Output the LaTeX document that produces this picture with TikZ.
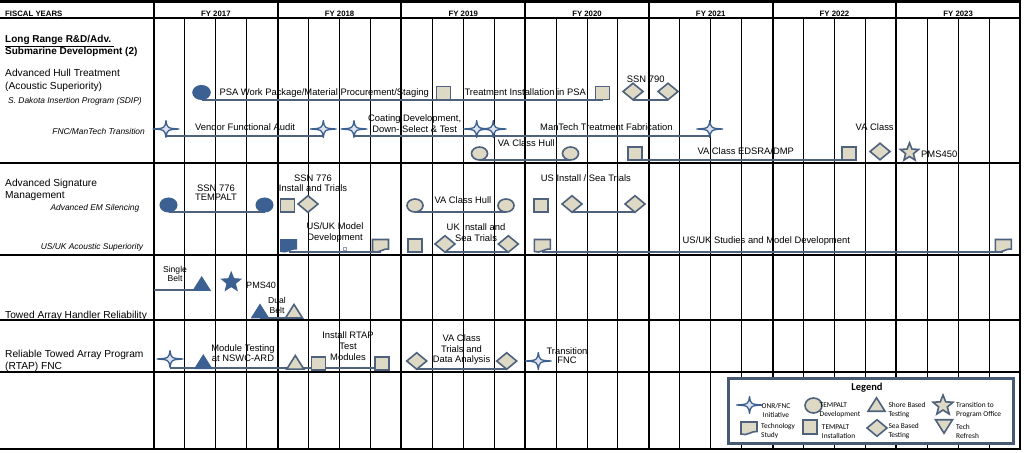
\documentclass[tikz,border=0pt]{standalone}
\usepackage{fontspec}
\setmainfont{Liberation Sans}
\newfontfamily\legfont{Carlito}
\usetikzlibrary{shapes.geometric,calc}
\pgfdeclarelayer{gridlayer}
\pgfdeclarelayer{connlayer}
\pgfsetlayers{gridlayer,connlayer,main}
\definecolor{dkb}{RGB}{60,96,145}
\definecolor{slt}{RGB}{78,98,126}
\definecolor{tanf}{RGB}{221,217,196}
\definecolor{legb}{RGB}{70,90,118}
\definecolor{sfill}{RGB}{222,228,238}
\newcommand\trishape[3]{\node[tribox] (#2) at (#3) {};\path[#1] (#2.south west) -- (#2.south east) -- (#2.north) -- cycle;}
\newcommand\dtrishape[3]{\node[tribox] (#2) at (#3) {};\path[#1] (#2.north west) -- (#2.north east) -- (#2.south) -- cycle;}
\newcommand\diashape[3]{\node[diabox] (#2) at (#3) {};\path[#1] (#2.west) -- (#2.north) -- (#2.east) -- (#2.south) -- cycle;}
\newcommand\docshape[3]{\node[docbox] (#2) at (#3) {};\path[#1] ($(#2)+(-8,-6)$) -- ($(#2)+(8,-6)$) -- ($(#2)+(8,3.5)$) .. controls ($(#2)+(3,2.5)$) and ($(#2)+(-2,8.5)$) .. ($(#2)+(-8,6)$) -- cycle;}
\newcommand\starfour[2]{\node[sfbox] (#1) at (#2) {};\path[sfour] (#1.west) .. controls ($(#1)+(-1.2,-0.8)$) .. (#1.north) .. controls ($(#1)+(1.2,-0.8)$) .. (#1.east) .. controls ($(#1)+(1.2,0.8)$) .. (#1.south) .. controls ($(#1)+(-1.2,0.8)$) .. (#1.west) -- cycle;}
\begin{document}
\begin{tikzpicture}[x=1pt,y=-1pt,
  conn/.style={draw=slt, line width=2pt},
  dkf/.style={fill=dkb, draw=dkb, line width=1pt},
  ltf/.style={fill=tanf, draw=slt, line width=1.6pt},
  sfour/.style={fill=sfill, draw=dkb, line width=1.3pt, line join=round},
  sqr/.style={rectangle, minimum width=14pt, minimum height=13pt, inner sep=0, outer sep=0, ltf},
  dkell/.style={ellipse, minimum width=17pt, minimum height=14pt, inner sep=0, outer sep=0, dkf},
  ltell/.style={ellipse, minimum width=16pt, minimum height=13pt, inner sep=0, outer sep=0, ltf},
  starv/.style={star, star points=5, star point ratio=2.3, inner sep=0, outer sep=0, minimum size=19pt},
  tribox/.style={rectangle, minimum width=17pt, minimum height=13.5pt, inner sep=0, outer sep=0},
  diabox/.style={rectangle, minimum width=20pt, minimum height=16.5pt, inner sep=0, outer sep=0},
  docbox/.style={rectangle, minimum width=16pt, minimum height=12pt, inner sep=0, outer sep=0},
  sfbox/.style={rectangle, minimum width=26pt, minimum height=17pt, inner sep=0, outer sep=0},
  lab/.style={font=\fontsize{9.4}{10.5}\selectfont, inner sep=0, align=center},
  labw/.style={font=\fontsize{9.4}{11}\selectfont, inner sep=0, anchor=base west},
  side/.style={font=\fontsize{10.2}{12}\selectfont, inner sep=0, anchor=base west},
  sideb/.style={font=\fontsize{10}{12}\selectfont\bfseries, inner sep=0, anchor=base west},
  sidei/.style={font=\fontsize{8.4}{10}\selectfont\itshape, inner sep=0},
  hdr/.style={font=\fontsize{7.8}{9}\selectfont\bfseries, inner sep=0, anchor=base},
  leg/.style={font=\legfont\fontsize{7.4}{9}\selectfont, inner sep=0, align=left, anchor=west}
]
\useasboundingbox (0,0) rectangle (1024,452);
% ---------- grid ----------
\begin{pgfonlayer}{gridlayer}
\fill[white] (0,0) rectangle (1024,452);
\foreach \i in {1,...,27} \draw[line width=1pt] ({154+30.929*\i},18) -- ({154+30.929*\i},448.5);
\foreach \i in {0,...,7} \draw[line width=2pt] ({154+123.714*\i},2) -- ({154+123.714*\i},449);
\draw[line width=3pt] (0,2) -- (1021,2);
\draw[line width=1.8pt] (0,17.8) -- (1021,17.8);
\draw[line width=1.6pt] (0,163) -- (1021,163);
\draw[line width=1.6pt] (0,255) -- (1021,255);
\draw[line width=1.6pt] (0,320) -- (1021,320);
\draw[line width=1.6pt] (0,372) -- (1021,372);
\draw[line width=2.6pt] (0,448.8) -- (1021,448.8);
\end{pgfonlayer}
% ---------- header ----------
\node[hdr, anchor=base west] (hfy) at (5,16.2) {FISCAL YEARS};
\foreach \y [count=\k from 0] in {2017,...,2023}
  \node[hdr] (hy\k) at ({215.86+123.714*\k},16.2) {FY \y};
% ---------- side labels ----------
\node[sideb] (tlr) at (5,42.8) {\underline{Long Range R\&D/Adv.\ }};
\node[sideb] (tsd) at (5,55) {Submarine Development (2)};
\node[side] (tah) at (5,76.7) {Advanced Hull Treatment};
\node[side] (tas) at (5,89.3) {(Acoustic Superiority)};
\node[sidei, anchor=base west] (tsdip) at (8,103) {S. Dakota Insertion Program (SDIP)};
\node[sidei, anchor=base east] (tfnc) at (145,134.7) {FNC/ManTech Transition};
\node[side] (tasm) at (5,186.7) {Advanced Signature};
\node[side] (tmg) at (5,198.5) {Management};
\node[sidei, anchor=base east] (tem) at (139.5,210) {Advanced EM Silencing};
\node[sidei, anchor=base east] (tusuk) at (143.3,249.3) {US/UK Acoustic Superiority};
\node[side] (ttah) at (5,318) {Towed Array Handler Reliability};
\node[side] (trt) at (5,357.5) {Reliable Towed Array Program};
\node[side] (trf) at (5,369.5) {(RTAP) FNC};
% ---------- chart labels ----------
\node[labw] (l1) at (219.3,95) {PSA Work Package/Material Procurement/Staging};
\node[labw] (l2) at (464.3,95) {Treatment Installation in PSA};
\node[labw] (l3) at (626.7,82.7) {SSN 790};
\node[labw] (l4) at (195,130.5) {Vendor Functional Audit};
\node[lab, font=\fontsize{9.4}{11}\selectfont] (l5) at (414.7,123.5) {Coating Development,\\Down- Select \& Test};
\node[labw] (l6) at (540,130.5) {ManTech Treatment Fabrication};
\node[labw] (l7) at (497.7,146.6) {VA Class Hull};
\node[labw] (l8) at (697.3,154) {VA Class EDSRA/DMP};
\node[labw] (l9) at (855.5,130.5) {VA Class};
\node[labw] (l10) at (921,157.3) {PMS450};
\node[lab, font=\fontsize{9.4}{9.5}\selectfont] (l11) at (216,192.9) {SSN 776\\TEMPALT};
\node[lab, font=\fontsize{9.4}{10}\selectfont] (l12) at (313,183.3) {SSN 776\\Install and Trials};
\node[labw] (l13) at (434.3,203.3) {VA Class Hull};
\node[labw] (l14) at (540.7,181.5) {US Install / Sea Trials};
\node[lab] (l15) at (335,232.8) {US/UK Model\\Development};
\node[lab, font=\fontsize{9.4}{11}\selectfont] (l16) at (476,232.6) {UK Install and\\Sea Trials};
\node[labw] (l17) at (682.5,243.5) {US/UK Studies and Model Development};
\node[lab, font=\fontsize{8.6}{9.2}\selectfont] (l18) at (175,274) {Single\\Belt};
\node[labw, font=\fontsize{9.1}{11}\selectfont] (l19) at (246,288.3) {PMS40};
\node[lab, font=\fontsize{8.6}{10}\selectfont] (l20) at (277,305.2) {Dual\\Belt};
\node[lab, font=\fontsize{9.4}{10.2}\selectfont] (l21) at (243,353.2) {Module Testing\\at NSWC-ARD};
\node[lab, font=\fontsize{9.4}{10.75}\selectfont] (l22) at (348,346.3) {Install RTAP\\Test\\Modules};
\node[lab, font=\fontsize{9.4}{10.65}\selectfont] (l23) at (461.5,349.9) {VA Class\\Trials and\\Data Analysis};
\node[lab, font=\fontsize{9.4}{9.7}\selectfont] (l24) at (567,355.7) {Transition\\FNC};
% ---------- shapes: section 1 ----------
\node[dkell, minimum width=17.5pt] (e1) at (201.5,92.5) {};
\node[sqr] (q1) at (443.5,93) {};
\node[sqr] (q2) at (602.5,93) {};
\diashape{ltf}{d1}{633,91.5}
\diashape{ltf}{d2}{668,91.5}
\starfour{s1}{166,129}
\starfour{s2}{323.3,129}
\starfour{s3}{354,129}
\starfour{s4}{476.7,129}
\starfour{s5}{493.3,129}
\starfour{s6}{709.8,129}
\node[ltell] (e2) at (479.5,153.5) {};
\node[ltell] (e3) at (570.5,153.5) {};
\node[sqr] (q3) at (635,153.5) {};
\node[sqr] (q4) at (848.7,153.5) {};
\diashape{ltf}{d3}{880,151.5}
\node[starv, ltf] (p1) at (909.5,152.4) {};
% ---------- shapes: section 2 ----------
\node[dkell] (de1) at (168.5,205) {};
\node[dkell] (de2) at (264.5,205) {};
\node[sqr] (q5) at (287.5,205.5) {};
\diashape{ltf}{d4}{308,204}
\node[ltell] (e4) at (415,205.5) {};
\node[ltell] (e5) at (506,205.5) {};
\node[sqr] (q6) at (541,205.5) {};
\diashape{ltf}{d5}{572,204}
\diashape{ltf}{d6}{635,204}
\docshape{dkf}{t1}{288.5,245.5}
\docshape{ltf}{t2}{380.5,245.5}
\node[rectangle, draw=slt!60, line width=0.6pt, minimum width=3.5pt, minimum height=3pt, inner sep=0] (tq) at (344.7,249) {};
\node[sqr] (q7) at (415,245.5) {};
\diashape{ltf}{d7}{445,244}
\diashape{ltf}{d8}{508.3,244}
\docshape{ltf}{t3}{542.3,245.5}
\docshape{ltf}{t4}{1003.3,245.5}
% ---------- shapes: section 3 ----------
\coordinate (sb0) at (154,290);
\trishape{dkf}{r1}{201.7,283.7}
\node[starv, dkf, minimum size=20pt] (p2) at (231.2,282.2) {};
\trishape{dkf}{r2}{260,311.2}
\trishape{ltf}{r3}{294,311.2}
% ---------- shapes: section 4 ----------
\starfour{s7}{170,359}
\trishape{dkf}{r4}{203.3,361.8}
\trishape{ltf}{r5}{295.3,362.3}
\node[sqr] (q8) at (318.3,363.5) {};
\node[sqr] (q9) at (382.2,363.5) {};
\diashape{ltf}{d9}{416.7,361}
\diashape{ltf}{d10}{506.7,361}
\starfour{s8}{538.3,361}
% ---------- connectors ----------
\begin{pgfonlayer}{connlayer}
\draw[conn] (e1.south) -- (q1.south) -- (q2.south);
\draw[conn] (d1.south) -- (d2.south);
\draw[conn] ([yshift=-7pt]s1.center) -- ([yshift=-7pt]s2.center);
\draw[conn] ([yshift=-7pt]s3.center) -- ([yshift=-7pt]s6.center);
\draw[conn] (e2.south) -- (e3.south);
\draw[conn] (q3.south) -- (q4.south);
\draw[conn] (de1.south) -- (de2.south);
\draw[conn] (e4.south) -- (e5.south);
\draw[conn] (d5.south) -- (d6.south);
\draw[conn] (t1.south) -- (t2.south);
\draw[conn] (d7.south) -- (d8.south);
\draw[conn] (t3.south) -- (t4.south);
\draw[conn] (sb0) -- (sb0 -| r1.center);
\draw[conn] (r2.south) -- (r3.south);
\draw[conn] ([yshift=-9pt]s7.center) -- ([yshift=-9pt]s7.center -| q9.center);
\draw[conn] (d9.south) -- (d10.south);
\end{pgfonlayer}
% ---------- legend ----------
\node[draw=legb, line width=2.5pt, fill=white, minimum width=285pt, minimum height=65pt, inner sep=0, anchor=north west] (legbox) at (727,377) {};
\node[font=\legfont\bfseries\fontsize{10.5}{12}\selectfont, inner sep=0, anchor=base] (legt) at (867,390.5) {Legend};
\starfour{ls1}{749.5,405}
\node[ltell, minimum width=17pt, minimum height=15pt] (le) at (813.5,405.5) {};
\trishape{ltf}{lr}{876.5,404.5}
\node[starv, ltf, minimum size=21pt] (lp) at (943,405.5) {};
\docshape{ltf}{lt}{749,428}
\node[sqr, minimum height=14pt] (lq) at (810,427) {};
\diashape{ltf}{ld}{877,428}
\dtrishape{ltf}{ldt}{944,426.5}
\node[leg, align=center, anchor=center] (lg1) at (776,410) {ONR/FNC\\Initiative};
\node[leg] (lg2) at (819.5,410) {TEMPALT\\Development};
\node[leg] (lg3) at (888.3,410) {Shore Based\\Testing};
\node[leg] (lg4) at (956,410) {Transition to\\Program Office};
\node[leg] (lg5) at (761,431.5) {Technology\\Study};
\node[leg] (lg6) at (821.7,431.5) {TEMPALT\\Installation};
\node[leg] (lg7) at (888.3,431.5) {Sea Based\\Testing};
\node[leg] (lg8) at (956,431.5) {Tech\\Refresh};
\end{tikzpicture}
\end{document}
